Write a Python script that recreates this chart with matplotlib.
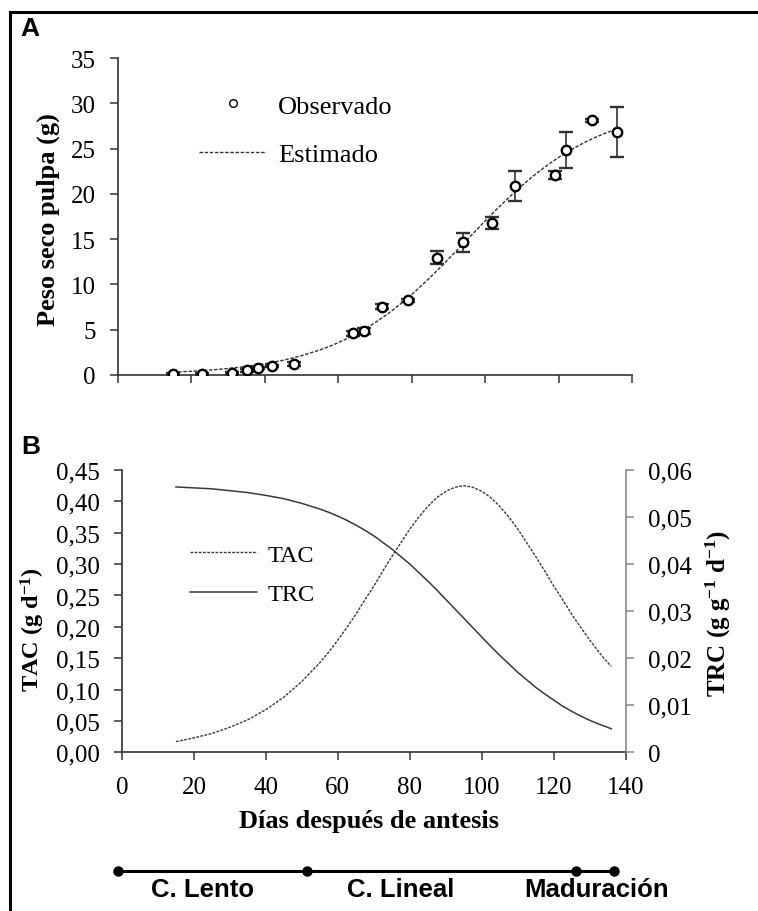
import matplotlib
matplotlib.use("Agg")
import matplotlib.pyplot as plt
from matplotlib.patches import Rectangle
from matplotlib.ticker import FuncFormatter

plt.rcParams["font.family"] = "Liberation Serif"
plt.rcParams["mathtext.fontset"] = "custom"
plt.rcParams["mathtext.rm"] = "Liberation Serif:bold"
plt.rcParams["mathtext.it"] = "Liberation Serif:bold"
plt.rcParams["mathtext.bf"] = "Liberation Serif:bold"

# ---------------------------------------------------------------------------
# Data
# ---------------------------------------------------------------------------

# Panel A: observed dry pulp weight (g) with error bars
obs_days = [15, 23, 31, 35, 38, 42, 48, 64, 67, 72, 79, 87, 94, 102, 108, 119, 122, 129, 136]
obs_peso = [0.1, 0.1, 0.25, 0.5, 0.75, 1.0, 1.2, 4.6, 4.85, 7.55, 8.25, 12.95, 14.65,
            16.8, 20.9, 22.1, 24.85, 28.1, 26.85]
obs_err = [0.1, 0.1, 0.1, 0.15, 0.1, 0.15, 0.2, 0.25, 0.3, 0.3, 0.15, 0.7, 1.05,
           0.65, 1.65, 0.45, 2.0, 0.2, 2.75]

# fitted curves (denser around the TAC peak)
fit_days = [15, 20, 25, 30, 35, 40, 45, 50, 55,
            57.5, 60, 62.5, 65, 67.5, 70, 72.5, 75, 77.5, 80,
            82.5, 85, 87.5, 90, 92.5, 95, 97.5, 100, 102.5, 105,
            107.5, 110, 112.5, 115, 117.5, 120, 122.5, 125, 127.5, 130,
            132.5, 135, 136]
peso_est = [0.31, 0.41, 0.54, 0.72, 0.94, 1.24, 1.63, 2.13, 2.77,
            3.14, 3.57, 4.04, 4.56, 5.14, 5.78, 6.47, 7.22, 8.03, 8.89,
            9.81, 10.77, 11.76, 12.79, 13.84, 14.90, 15.96, 17.01, 18.04, 19.03,
            19.99, 20.91, 21.77, 22.58, 23.33, 24.02, 24.66, 25.23, 25.76, 26.23,
            26.66, 27.03, 27.18]
tac = [0.017, 0.023, 0.030, 0.040, 0.052, 0.068, 0.088, 0.113, 0.143,
       0.160, 0.179, 0.199, 0.220, 0.243, 0.265, 0.289, 0.312, 0.334, 0.356,
       0.375, 0.392, 0.406, 0.416, 0.4225, 0.425, 0.4225, 0.416, 0.406, 0.392,
       0.375, 0.356, 0.334, 0.312, 0.289, 0.265, 0.243, 0.220, 0.199, 0.179,
       0.160, 0.143, 0.137]
trc = [0.0564, 0.0562, 0.0560, 0.0556, 0.0552, 0.0546, 0.0539, 0.0529, 0.0517,
       0.0510, 0.0502, 0.0493, 0.0483, 0.0472, 0.0460, 0.0446, 0.0432, 0.0416, 0.0400,
       0.0382, 0.0364, 0.0345, 0.0325, 0.0305, 0.0285, 0.0265, 0.0245, 0.0225, 0.0206,
       0.0188, 0.0170, 0.0154, 0.0138, 0.0124, 0.0111, 0.0098, 0.0087, 0.0077, 0.0068,
       0.0060, 0.0053, 0.0050]

# growth phases along the day axis
phase_edges = [-1, 51.4, 126.1, 136.7]
phase_names = ["C. Lento", "C. Lineal", "Maduración"]
phase_label_days = [22.5, 77.5, 132]

# ---------------------------------------------------------------------------
# Layout helpers (pixel boxes -> figure fractions)
# ---------------------------------------------------------------------------

W, H = 758, 912


def box(left, top, right, bottom):
    return [left / W, 1 - bottom / H, (right - left) / W, (bottom - top) / H]


def comma_fmt(v, _):
    return f"{v:.2f}".replace(".", ",")


def comma_fmt_zero(v, _):
    return "0" if abs(v) < 1e-9 else comma_fmt(v, _)


fig = plt.figure(figsize=(W / 100, H / 100), dpi=100)
fig.add_artist(Rectangle((9.5 / W, -0.05), 1.1, 1 - 13 / H + 0.05, transform=fig.transFigure,
                         fill=False, lw=2.2, edgecolor="black"))

TICK_FS = 18
dark = "#333333"

# ---------------------------------------------------------------------------
# Panel A
# ---------------------------------------------------------------------------
ax = fig.add_axes(box(118, 59, 632, 376))
ax.plot(fit_days, peso_est, color=dark, lw=1.0, ls=(0, (2.5, 1.2)), label="Estimado")
ax.errorbar(obs_days, obs_peso, yerr=obs_err, fmt="o", mfc="white", mec="black", mew=1.7,
            ms=6.8, ecolor=dark, elinewidth=1.2, capsize=4.7, capthick=1.2, zorder=3)
ax.plot([], [], "o", mfc="white", mec="black", mew=1.0, ms=5.5, label="Observado")
ax.set_xlim(0, 140)
ax.set_ylim(0, 35)
ax.set_xticks(range(0, 141, 20))
ax.set_xticklabels([])
ax.set_yticks(range(0, 36, 5))
for s in ("top", "right"):
    ax.spines[s].set_visible(False)
for s in ("left", "bottom"):
    ax.spines[s].set_color(dark)
    ax.spines[s].set_linewidth(1.2)
ax.tick_params(direction="out", length=6, width=1.1, color=dark, labelsize=TICK_FS, pad=10)
handles, labels = ax.get_legend_handles_labels()
ax.legend(handles[::-1], labels[::-1], loc="upper left", bbox_to_anchor=(81 / 514, 0.886),
          frameon=False, fontsize=19, handlelength=2.55, handletextpad=0.45,
          labelspacing=0.95, borderpad=0, borderaxespad=0)
fig.text(48 / W, 1 - 220 / H, "Peso seco pulpa (g)", rotation=90, ha="center", va="center",
         fontsize=19, fontweight="bold")
fig.text(20 / W, 1 - 29 / H, "A", fontsize=19, fontweight="bold", family="Liberation Sans",
         ha="left", va="center")

# ---------------------------------------------------------------------------
# Panel B
# ---------------------------------------------------------------------------
bx = fig.add_axes(box(122, 471, 625.7, 753.3))
bx2 = bx.twinx()
l1, = bx.plot(fit_days, tac, color="#3a3a3a", lw=1.0, ls=(0, (2.0, 1.0)), label="TAC")
l2, = bx2.plot(fit_days, trc, color="#3a3a3a", lw=1.1, label="TRC")
bx.set_xlim(0, 140)
bx.set_ylim(0, 0.45)
bx2.set_ylim(0, 0.06)
bx.set_xticks(range(0, 141, 20))
bx.set_yticks([i * 0.05 for i in range(10)])
bx2.set_yticks([i * 0.01 for i in range(7)])
bx.yaxis.set_major_formatter(FuncFormatter(comma_fmt))
bx2.yaxis.set_major_formatter(FuncFormatter(comma_fmt_zero))
for a in (bx, bx2):
    a.spines["top"].set_visible(False)
bx.spines["right"].set_visible(False)
bx2.spines["left"].set_visible(False)
bx2.spines["bottom"].set_visible(False)
bx2.spines["right"].set_color("#888888")
bx2.spines["right"].set_linewidth(1.2)
for s in ("left", "bottom"):
    bx.spines[s].set_color(dark)
    bx.spines[s].set_linewidth(1.2)
bx.tick_params(direction="out", length=6, width=1.1, color=dark, labelsize=TICK_FS, pad=10)
bx.tick_params(axis="x", pad=11)
bx2.tick_params(direction="out", length=6, width=1.1, color="#888888", labelsize=TICK_FS, pad=10)
bx.legend([l1, l2], ["TAC", "TRC"], loc="upper left", bbox_to_anchor=(68 / 503.7, 0.738),
          frameon=False, fontsize=17.5, handlelength=2.75, handletextpad=0.45,
          labelspacing=0.72, borderpad=0, borderaxespad=0)
fig.text(33 / W, 1 - 630 / H, "TAC (g d$^{-1}$)", rotation=90, ha="center", va="center",
         fontsize=17.5, fontweight="bold")
fig.text(718 / W, 1 - 613 / H, "TRC (g g$^{-1}$ d$^{-1}$)", rotation=90, ha="center",
         va="center", fontsize=18, fontweight="bold")
fig.text(369 / W, 1 - 828 / H, "Días después de antesis", ha="center", va="baseline",
         fontsize=19, fontweight="bold")
fig.text(21 / W, 1 - 447 / H, "B", fontsize=19, fontweight="bold", family="Liberation Sans",
         ha="left", va="center")

# ---------------------------------------------------------------------------
# Growth phases bar
# ---------------------------------------------------------------------------
px = fig.add_axes(box(122, 860, 625.7, 905))
px.set_xlim(0, 140)
px.set_ylim(0, 1)
px.axis("off")
px.plot(phase_edges, [0.73] * len(phase_edges), color="black", lw=2.2, marker="o", ms=6.5,
        clip_on=False)
for name, d in zip(phase_names, phase_label_days):
    px.text(d, 0.6, name, ha="center", va="top", fontsize=18.5, fontweight="bold",
            family="Liberation Sans")

fig.savefig("out.png", dpi=100)
